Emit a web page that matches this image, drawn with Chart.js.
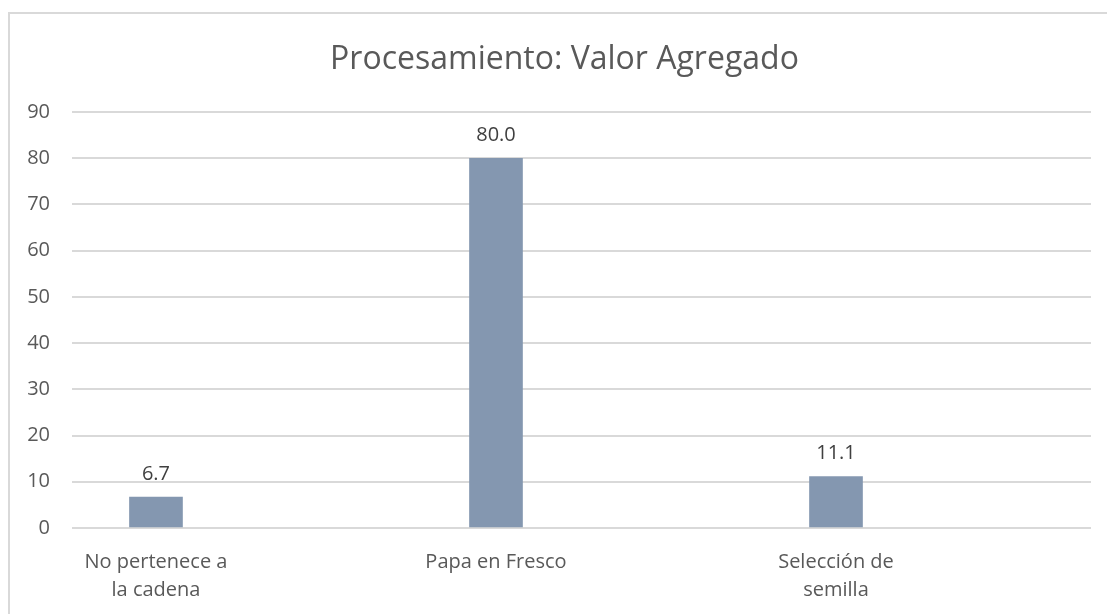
<!DOCTYPE html>
<html>
<head>
<meta charset="utf-8">
<script src="https://cdn.jsdelivr.net/npm/chart.js@4"></script>
<style>
    body { margin: 0; background: #fff; }
    .chart-box {
        position: absolute;
        left: 8px;
        top: 12px;
        width: 1099px;
        height: 602px;
        border-left: 2px solid #d9d9d9;
        border-top: 2px solid #d9d9d9;
    }
</style>
</head>
<body>
<div class="chart-box"><canvas id="valorChart" width="1097" height="600"></canvas></div>
<script>
const chartTitle = 'Procesamiento: Valor Agregado';
const categories = [['No pertenece a', 'la cadena'], 'Papa en Fresco', ['Selección de', 'semilla']];
const values = [6.7, 80.0, 11.1];
const yTicks = [0, 10, 20, 30, 40, 50, 60, 70, 80, 90];

const fontFamily = '"Open Sans", "Noto Sans", sans-serif';
const textColor = '#595959';

// título y etiquetas de valor encima de cada barra
const barLabels = {
    id: 'barLabels',
    afterDatasetsDraw(chart) {
        const ctx = chart.ctx;
        const meta = chart.getDatasetMeta(0);
        ctx.save();
        ctx.textAlign = 'center';
        ctx.textBaseline = 'middle';

        ctx.font = '32px ' + fontFamily;
        ctx.fillStyle = textColor;
        ctx.fillText(chartTitle, (28 + chart.chartArea.right) / 2, 46);

        ctx.font = '20px ' + fontFamily;
        ctx.fillStyle = '#404040';
        meta.data.forEach((bar, i) => {
            ctx.fillText(values[i].toFixed(1), bar.x, bar.y - 23);
        });
        ctx.restore();
    }
};

const ctx = document.getElementById('valorChart').getContext('2d');
new Chart(ctx, {
    type: 'bar',
    data: {
        datasets: [{
            data: values.map((v, i) => ({ x: i, y: v })),
            backgroundColor: '#8497b0',
            barThickness: 53
        }]
    },
    options: {
        responsive: false,
        animation: false,
        layout: { padding: { left: 0, right: 16, top: 98, bottom: 0 } },
        scales: {
            x: {
                type: 'linear',
                offset: false,
                min: -0.247,
                max: 2.75,
                afterBuildTicks: scale => { scale.ticks = categories.map((c, i) => ({ value: i })); },
                afterFit: scale => { scale.height = 86; },
                grid: { display: false, offset: false },
                border: { display: false },
                ticks: {
                    autoSkip: false,
                    maxRotation: 0,
                    padding: 12,
                    color: textColor,
                    font: { family: fontFamily, size: 20, lineHeight: 1.4 },
                    callback: value => categories[value]
                }
            },
            y: {
                min: 0,
                max: 90,
                afterBuildTicks: scale => { scale.ticks = yTicks.map(v => ({ value: v })); },
                afterFit: scale => { scale.width = 62; },
                grid: { color: '#d9d9d9', lineWidth: 2, drawTicks: false },
                border: { display: false },
                ticks: {
                    padding: 22,
                    color: textColor,
                    font: { family: fontFamily, size: 20 }
                }
            }
        },
        plugins: {
            legend: { display: false },
            tooltip: { enabled: false },
            title: { display: false }
        }
    },
    plugins: [barLabels]
});
</script>
</body>
</html>
